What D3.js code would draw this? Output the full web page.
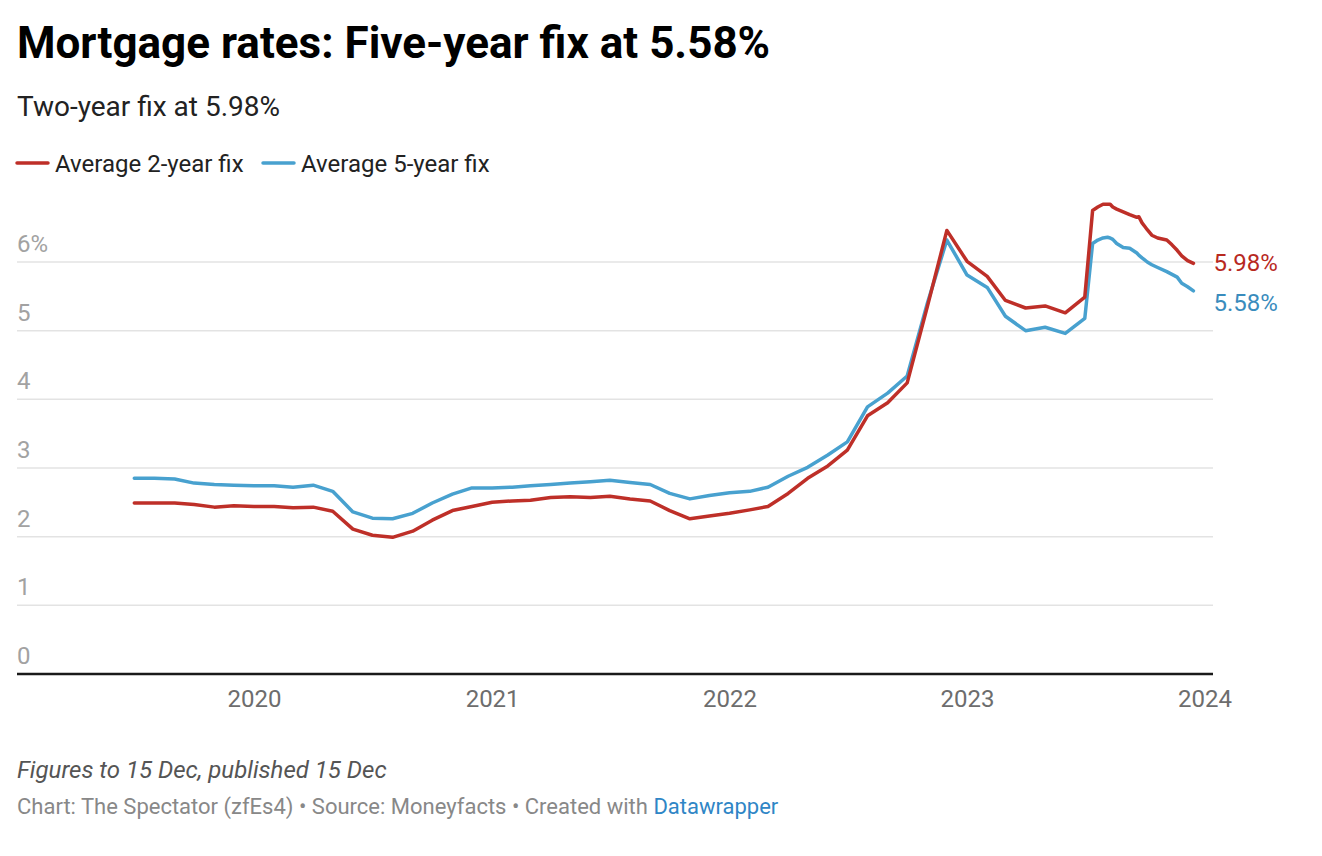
<!DOCTYPE html>
<html>
<head>
<meta charset="utf-8">
<script src="https://cdn.jsdelivr.net/npm/d3@7"></script>
<style>
  html, body { margin: 0; padding: 0; background: #fff; }
  svg { display: block; }
  text { font-family: Roboto, "Noto Sans", sans-serif; }
</style>
</head>
<body>
<svg id="chart" width="1322" height="856"></svg>
<script>
// ---- Data ----
const dates = [
  "2019-07-01","2019-08-01","2019-09-01","2019-10-01","2019-11-01","2019-12-01",
  "2020-01-01","2020-02-01","2020-03-01","2020-04-01","2020-05-01","2020-06-01",
  "2020-07-01","2020-08-01","2020-09-01","2020-10-01","2020-11-01","2020-12-01",
  "2021-01-01","2021-02-01","2021-03-01","2021-04-01","2021-05-01","2021-06-01",
  "2021-07-01","2021-08-01","2021-09-01","2021-10-01","2021-11-01","2021-12-01",
  "2022-01-01","2022-02-01","2022-03-01","2022-04-01","2022-05-01","2022-06-01",
  "2022-07-01","2022-08-01","2022-09-01","2022-10-01","2022-11-01","2022-12-01",
  "2023-01-01","2023-02-01","2023-03-01","2023-04-01","2023-05-01","2023-06-01",
  "2023-07-01","2023-07-13","2023-07-21","2023-07-29","2023-08-05","2023-08-09",
  "2023-08-13","2023-08-19","2023-08-29","2023-09-08","2023-09-19","2023-09-22",
  "2023-09-27","2023-10-01","2023-10-05","2023-10-12","2023-10-21","2023-11-04",
  "2023-11-12","2023-11-20","2023-11-27","2023-12-06","2023-12-15"
];
const twoYearFix = [
  2.49,2.49,2.49,2.47,2.43,2.45,
  2.44,2.44,2.42,2.43,2.37,2.11,
  2.02,1.99,2.08,2.24,2.38,2.44,
  2.50,2.52,2.53,2.57,2.58,2.57,
  2.59,2.55,2.52,2.38,2.26,2.30,
  2.34,2.39,2.44,2.63,2.85,3.03,
  3.26,3.76,3.95,4.24,5.35,6.46,
  6.01,5.79,5.44,5.33,5.36,5.26,
  5.49,6.75,6.80,6.84,6.84,6.84,
  6.80,6.77,6.73,6.69,6.65,6.66,
  6.57,6.52,6.47,6.39,6.35,6.32,
  6.25,6.17,6.09,6.02,5.98
];
const fiveYearFix = [
  2.85,2.85,2.84,2.78,2.76,2.75,
  2.74,2.74,2.72,2.75,2.66,2.36,
  2.27,2.26,2.34,2.49,2.62,2.71,
  2.71,2.72,2.74,2.76,2.78,2.80,
  2.82,2.79,2.76,2.63,2.55,2.60,
  2.64,2.66,2.72,2.88,3.01,3.19,
  3.38,3.89,4.09,4.34,5.40,6.32,
  5.81,5.63,5.21,5.00,5.05,4.96,
  5.18,6.27,6.32,6.35,6.36,6.35,
  6.33,6.27,6.21,6.20,6.13,6.10,
  6.06,6.03,6.00,5.96,5.92,5.86,
  5.82,5.78,5.69,5.64,5.58
];
const seriesNames = ["Average 2-year fix", "Average 5-year fix"];
const seriesColors = ["#be2f28", "#48a1cf"];
const labelColors = ["#b8291f", "#3a8cbd"];
const yTicks = [0, 1, 2, 3, 4, 5, 6];
const xTickYears = [2020, 2021, 2022, 2023, 2024];

const titleText = "Mortgage rates: Five-year fix at 5.58%";
const subtitleText = "Two-year fix at 5.98%";
const noteText = "Figures to 15 Dec, published 15 Dec";

// ---- Layout ----
const svg = d3.select("#chart");
const plotLeft = 17, plotRight = 1213, plotTop = 262, plotBottom = 674;
const parse = d3.timeParse("%Y-%m-%d");
const parsedDates = dates.map(parse);

const x = d3.scaleTime()
  .domain([parse("2020-01-01"), parse("2024-01-01")])
  .range([254, 1204.5]);

const y = d3.scaleLinear().domain([0, 6]).range([plotBottom, plotTop]);

// Title etc.
svg.append("text").attr("x", 17).attr("y", 58)
  .attr("font-size", 44).attr("font-weight", 700).attr("fill", "#000")
  .text(titleText);
svg.append("text").attr("x", 17).attr("y", 116)
  .attr("font-size", 28).attr("fill", "#222")
  .text(subtitleText);

// Legend
const legend = svg.append("g");
const legendX = [17, 263];
seriesNames.forEach((n, i) => {
  legend.append("line").attr("x1", legendX[i]).attr("x2", legendX[i] + 31)
    .attr("y1", 163).attr("y2", 163)
    .attr("stroke", seriesColors[i]).attr("stroke-width", 3.5).attr("stroke-linecap", "round");
  legend.append("text").attr("x", legendX[i] + 38).attr("y", 172)
    .attr("font-size", 24).attr("fill", "#222").text(n);
});

// Gridlines + y labels
const grid = svg.append("g");
yTicks.filter(t => t > 0).forEach(t => {
  grid.append("line").attr("x1", plotLeft).attr("x2", plotRight)
    .attr("y1", y(t)).attr("y2", y(t))
    .attr("stroke", "#e3e3e3").attr("stroke-width", 1.5);
});
yTicks.forEach(t => {
  grid.append("text").attr("x", plotLeft).attr("y", y(t) - 10)
    .attr("font-size", 24).attr("fill", "#a2a2a2")
    .text(t === 6 ? t + "%" : t);
});

// X axis
const xAxis = d3.axisBottom(x)
  .tickValues(xTickYears.map(yr => new Date(yr, 0, 1)))
  .tickFormat(d3.timeFormat("%Y"))
  .tickSize(0).tickPadding(16);
const gx = svg.append("g").attr("transform", `translate(0,${plotBottom})`).call(xAxis);
gx.select(".domain").remove();
gx.selectAll("text").attr("font-size", 24).attr("fill", "#6d6d6d")
  .attr("font-family", "Roboto, sans-serif");
svg.append("line").attr("x1", plotLeft).attr("x2", plotRight)
  .attr("y1", plotBottom).attr("y2", plotBottom)
  .attr("stroke", "#1a1a1a").attr("stroke-width", 2.5);

// Lines
const allSeries = [twoYearFix, fiveYearFix];
const line = d3.line().x((d, i) => x(parsedDates[i])).y(d => y(d));
[1, 0].forEach(si => {
  svg.append("path").datum(allSeries[si])
    .attr("d", line)
    .attr("fill", "none")
    .attr("stroke", seriesColors[si])
    .attr("stroke-width", 3.5)
    .attr("stroke-linejoin", "round")
    .attr("stroke-linecap", "round");
});

// End labels
const lastIdx = dates.length - 1;
const labelOffsets = [0, 12];
allSeries.forEach((s, si) => {
  svg.append("text")
    .attr("x", x(parsedDates[lastIdx]) + 20)
    .attr("y", y(s[lastIdx]) + 8 + labelOffsets[si])
    .attr("font-size", 24).attr("fill", labelColors[si])
    .text(s[lastIdx].toFixed(2) + "%");
});

// Footer
svg.append("text").attr("x", 17).attr("y", 778)
  .attr("font-size", 24).attr("font-style", "italic").attr("fill", "#555")
  .text(noteText);
const credit = svg.append("text").attr("x", 17).attr("y", 814)
  .attr("font-size", 22).attr("fill", "#888");
credit.append("tspan").text("Chart: The Spectator (zfEs4) • Source: Moneyfacts • Created with ");
credit.append("tspan").attr("fill", "#2f86c6").text("Datawrapper");
</script>
</body>
</html>
